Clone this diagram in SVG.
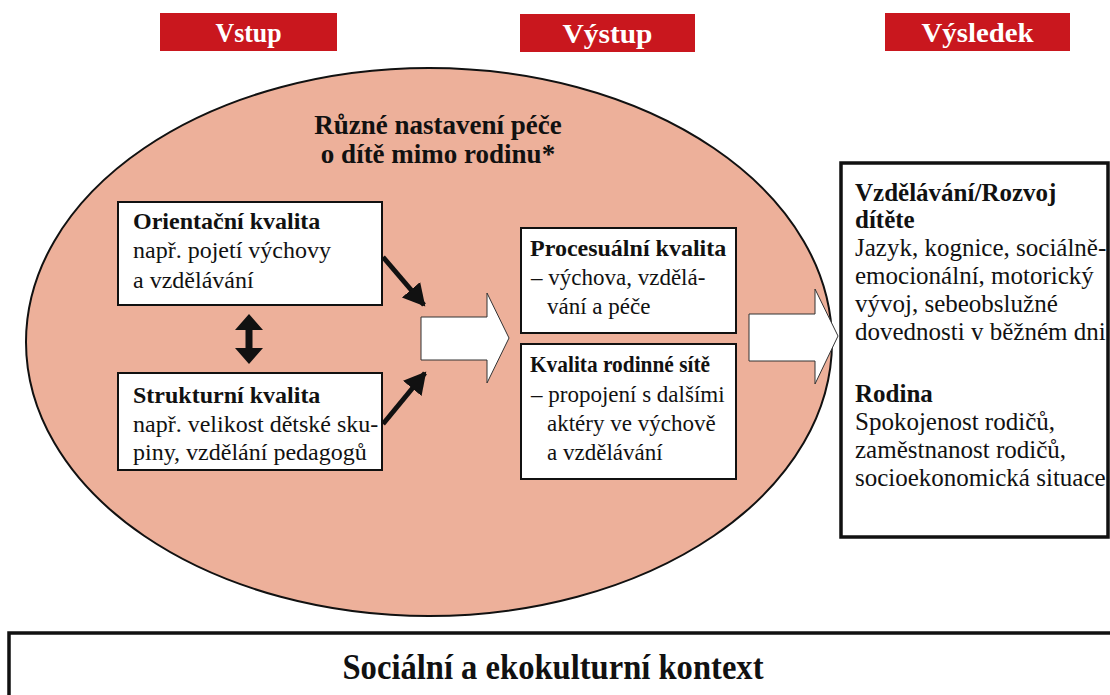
<svg xmlns="http://www.w3.org/2000/svg" width="1110" height="695" viewBox="0 0 1110 695">
<style>
  .hdr { fill: #C9171E; }
  .hdrt { font-family: "Liberation Serif", serif; font-weight: bold; font-size: 28px; fill: #fff; text-anchor: middle; }
  .box { fill: #fff; stroke: #111; stroke-width: 2; }
  .bigbox { fill: #fff; stroke: #111; stroke-width: 3.5; }
  .t { font-family: "Liberation Serif", serif; font-size: 24px; fill: #111; }
  .m { font-size: 23px; }
  .r { font-size: 25px; }
  .b { font-weight: bold; }
  .ttl { font-family: "Liberation Serif", serif; font-weight: bold; font-size: 27px; fill: #111; text-anchor: middle; }
  .blk { fill: none; stroke: #111; stroke-width: 5; }
  .wa { fill: #fff; stroke: #333; stroke-width: 1; }
</style>
<defs>
  <marker id="ah" markerUnits="userSpaceOnUse" markerWidth="26" markerHeight="26" refX="20" refY="12" orient="auto" viewBox="0 0 26 24">
    <path d="M0,0 L22,12 L0,24 Z" fill="#111"/>
  </marker>
</defs>

<g id="headers">
  <g id="hdr-vstup"><rect class="hdr" x="160" y="13" width="177" height="38"/><text class="hdrt" x="248.5" y="42" textLength="66" lengthAdjust="spacingAndGlyphs">Vstup</text></g>
  <g id="hdr-vystup"><rect class="hdr" x="520" y="14" width="175" height="38"/><text class="hdrt" x="607.5" y="43" textLength="90" lengthAdjust="spacingAndGlyphs">Výstup</text></g>
  <g id="hdr-vysledek"><rect class="hdr" x="885" y="13" width="185" height="38"/><text class="hdrt" x="977.5" y="42" textLength="112" lengthAdjust="spacingAndGlyphs">Výsledek</text></g>
</g>

<g id="ellipse">
  <ellipse cx="429" cy="342" rx="403" ry="274" fill="#EDB09A" stroke="#111" stroke-width="2"/>
  <text class="ttl" x="438" y="134">Různé nastavení péče</text>
  <text class="ttl" x="438" y="163">o dítě mimo rodinu*</text>
</g>

<g id="orientacni">
  <rect class="box" x="118" y="202" width="264" height="103"/>
  <text class="t b" x="133" y="229">Orientační kvalita</text>
  <text class="t" x="133" y="258">např. pojetí výchovy</text>
  <text class="t" x="133" y="288">a vzdělávání</text>
</g>

<g id="strukturni">
  <rect class="box" x="118" y="373" width="264" height="97"/>
  <text class="t b" x="133" y="403">Strukturní kvalita</text>
  <text class="t" x="133" y="432">např. velikost dětské sku-</text>
  <text class="t" x="133" y="460">piny, vzdělání pedagogů</text>
</g>

<g id="procesualni">
  <rect class="box" x="521" y="228" width="215" height="105"/>
  <text class="t b" x="530" y="256">Procesuální kvalita</text>
  <text class="t m" x="531" y="285">– výchova, vzdělá-</text>
  <text class="t m" x="547" y="314">vání a péče</text>
</g>

<g id="rodinna-sit">
  <rect class="box" x="521" y="344" width="215" height="135"/>
  <text class="t b" x="530" y="372" textLength="180" lengthAdjust="spacingAndGlyphs">Kvalita rodinné sítě</text>
  <text class="t m" x="531" y="402">– propojení s dalšími</text>
  <text class="t m" x="547" y="431">aktéry ve výchově</text>
  <text class="t m" x="547" y="460">a vzdělávání</text>
</g>

<g id="vysledek">
  <rect class="bigbox" x="841" y="163" width="267" height="374"/>
  <text class="t r b" x="855" y="201">Vzdělávání/Rozvoj</text>
  <text class="t r b" x="855" y="228">dítěte</text>
  <text class="t r" x="855" y="256">Jazyk, kognice, sociálně-</text>
  <text class="t r" x="855" y="284">emocionální, motorický</text>
  <text class="t r" x="855" y="312">vývoj, sebeobslužné</text>
  <text class="t r" x="855" y="340">dovednosti v běžném dni</text>
  <text class="t r b" x="855" y="402">Rodina</text>
  <text class="t r" x="855" y="430">Spokojenost rodičů,</text>
  <text class="t r" x="855" y="458">zaměstnanost rodičů,</text>
  <text class="t r" x="855" y="486">socioekonomická situace</text>
</g>

<g id="kontext">
  <rect class="bigbox" x="9" y="633" width="1110" height="80"/>
  <text x="553" y="679" font-family="Liberation Serif, serif" font-weight="bold" font-size="35" fill="#111" text-anchor="middle" textLength="421" lengthAdjust="spacingAndGlyphs">Sociální a ekokulturní kontext</text>
</g>

<g id="connectors">
  <line class="blk" x1="383" y1="257" x2="424" y2="305" marker-end="url(#ah)"/>
  <line class="blk" x1="383" y1="424" x2="425" y2="373" marker-end="url(#ah)"/>
  <path d="M249,314 L263,330 L252.5,330 L252.5,348 L263,348 L249,364 L235,348 L245.5,348 L245.5,330 L235,330 Z" fill="#111"/>
  <path class="wa" d="M421,317 L487,317 L487,293 L509,338 L487,383 L487,360 L421,360 Z"/>
  <path class="wa" d="M749,314 L815,314 L815,289 L838,336 L815,384 L815,361 L749,361 Z"/>
</g>
</svg>
